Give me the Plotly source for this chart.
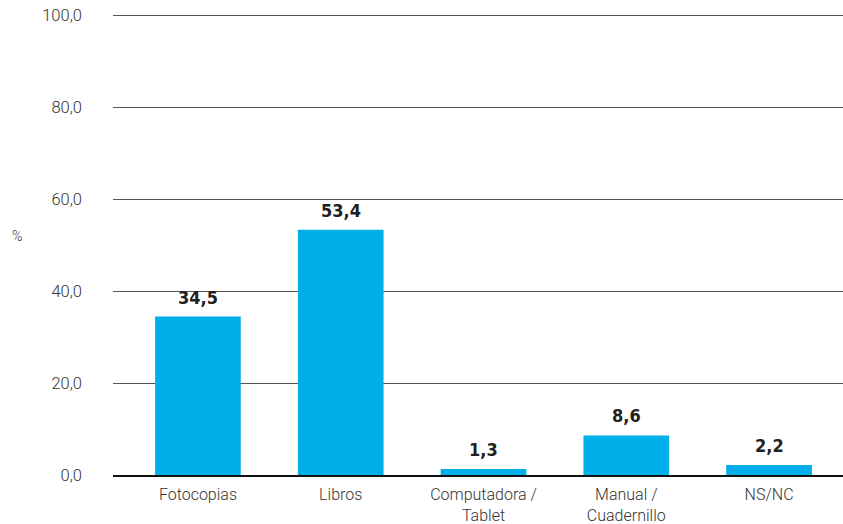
import plotly.graph_objects as go

categories = ["Fotocopias", "Libros", "Computadora /<br>Tablet", "Manual /<br>Cuadernillo", "NS/NC"]
values = [34.5, 53.4, 1.3, 8.6, 2.2]
y_ticks = [0, 20, 40, 60, 80, 100]

xs = list(range(len(categories)))

fig = go.Figure(go.Bar(
    x=xs,
    y=values,
    marker=dict(color="#00AEEA", line=dict(width=0)),
    width=0.6,
    hoverinfo="y",
))

label_font = dict(family="DejaVu Sans Condensed, Liberation Sans Narrow, Roboto",
                  size=18, color="#231f20", weight="bold")
annotations = [dict(x=x, y=v, xref="x", yref="y", text=f"{v:.1f}".replace(".", ","),
                    showarrow=False, yanchor="bottom", yshift=7, font=label_font)
               for x, v in zip(xs, values)]
annotations.append(dict(text="%", xref="paper", yref="paper", x=-0.141, y=0.5155,
                        xanchor="left", yanchor="middle", showarrow=False,
                        font=dict(size=14, color="#333333", family="Roboto", weight=300)))

fig.update_layout(
    width=843, height=524,
    margin=dict(l=113, r=0, t=11.4, b=49, autoexpand=False),
    plot_bgcolor="white", paper_bgcolor="white",
    separators=",.",
    showlegend=False,
    font=dict(family="Roboto", color="#333333", size=16),
    xaxis=dict(
        tickmode="array", tickvals=xs, ticktext=categories,
        range=[-0.595, 4.518], showgrid=False, zeroline=False, automargin=False,
        showline=True, linecolor="#111111", linewidth=2,
        ticks="", ticklabelstandoff=4, ticklabeloverflow="allow",
        tickfont=dict(size=16, color="#333333", family="Roboto", weight=300),
    ),
    yaxis=dict(
        range=[0, 101], tickvals=y_ticks, tickformat=".1f",
        showgrid=True, gridcolor="#555555", gridwidth=1,
        zeroline=False, showline=False, ticks="", automargin=False,
        ticklabelstandoff=30, ticklabeloverflow="allow",
        tickfont=dict(size=16.5, color="#333333", family="Roboto", weight=300),
    ),
    annotations=annotations,
)

fig.write_html("out.html", config={"displayModeBar": False},
               post_script="document.body.style.margin='0';document.body.style.overflow='hidden';")
